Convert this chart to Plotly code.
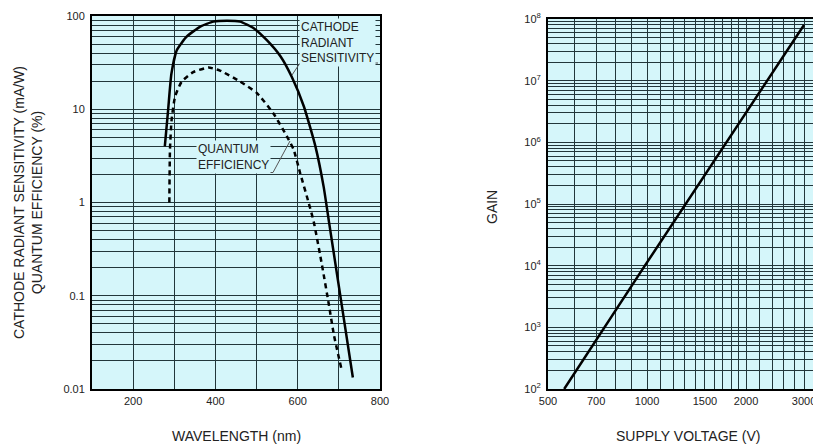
import math
import plotly.graph_objects as go

W, H = 821, 444
OFF = 8  # page body margin in the browser

# ---------------- Left chart data ----------------
wl_sens = [277, 285, 293, 306, 330, 363, 395, 428, 460, 493, 525, 558, 586, 615, 643, 663, 676, 705, 734]
sens = [4.0, 9.8, 24, 43, 60, 77, 87, 89, 87, 74, 55, 37, 22, 10.7, 4.0, 1.48, 0.62, 0.091, 0.0133]

wl_qe = [288, 289.5, 293.5, 302, 318, 346, 383, 411, 460, 501, 541, 574, 590, 606, 627, 639, 659, 676, 688, 706]
qe = [1.0, 3.7, 7.7, 13.7, 19.8, 25, 28, 26, 19.8, 14.9, 9.0, 5.1, 3.7, 2.06, 0.98, 0.62, 0.213, 0.079, 0.038, 0.0166]

wl_major = [200, 400, 600, 800]
wl_minor = [100, 300, 500, 700]

left_decades = [0.01, 0.1, 1, 10, 100]
left_decade_labels = ["0.01", "0.1", "1", "10", "100"]

# ---------------- Right chart data ----------------
voltage = [560, 985, 3000]
gain = [1e2, 1e4, 8e7]

volt_label_vals = [500, 700, 1000, 1500, 2000, 3000]
volt_grid = list(range(500, 2001, 100)) + list(range(2200, 3601, 200))

gain_decades = [1e2, 1e3, 1e4, 1e5, 1e6, 1e7, 1e8]
gain_decade_labels = ["10<sup>2</sup>", "10<sup>3</sup>", "10<sup>4</sup>", "10<sup>5</sup>",
                      "10<sup>6</sup>", "10<sup>7</sup>", "10<sup>8</sup>"]


def log_minor(decades):
    vals = []
    for d in decades[:-1]:
        for k in range(2, 10):
            vals.append(d * k)
    return vals


ly_minor = log_minor(left_decades)
ry_minor = log_minor(gain_decades)
rx_minor = [v for v in volt_grid if v not in volt_label_vals]

FONT = "Liberation Sans, Arial, sans-serif"
BG = "#d5f6fa"
GRID = "#22363a"


def px(x, y):
    """screen pixel -> paper coords (compensating the page margin)"""
    return (x - OFF) / W, 1 - (y - OFF) / H


fig = go.Figure()
fig.add_trace(go.Scatter(x=wl_sens, y=sens, mode="lines",
                         line=dict(color="black", width=2.5, shape="spline", smoothing=0.5),
                         xaxis="x", yaxis="y", showlegend=False))
fig.add_trace(go.Scatter(x=wl_qe, y=qe, mode="lines",
                         line=dict(color="black", width=2.5, dash="5px,4px", shape="spline", smoothing=0.5),
                         xaxis="x", yaxis="y", showlegend=False))
fig.add_trace(go.Scatter(x=voltage, y=gain, mode="lines", line=dict(color="black", width=2.5),
                         xaxis="x2", yaxis="y2", showlegend=False))


def axis(**kw):
    d = dict(showline=True, linecolor="black", linewidth=2, showgrid=True, gridcolor=GRID, gridwidth=1,
             ticks="outside", ticklen=3, tickcolor="rgba(0,0,0,0)", zeroline=False,
             tickfont=dict(family=FONT, size=11, color="#222"), automargin=False)
    d.update(kw)
    return d


def minor(vals):
    return dict(tickmode="array", tickvals=vals, showgrid=True, gridcolor=GRID, gridwidth=1, ticks="")


x0, y0 = px(92, 389)
x1, y1 = px(380, 16)
rx0, _ = px(548, 389)
rx1, ry1 = px(821, 19)
rx_end = math.log10(500) + (821 - 548) / 329.0

fig.update_layout(
    width=W, height=H, margin=dict(l=0, r=0, t=0, b=0),
    paper_bgcolor="white", plot_bgcolor=BG,
    font=dict(family=FONT, color="#222"),
    xaxis=axis(domain=[x0, x1], range=[100, 800], tickmode="array", tickvals=wl_major, ticklen=1,
               ticktext=[str(v) for v in wl_major], minor=minor(wl_minor), mirror=True, anchor="y"),
    yaxis=axis(domain=[y0, y1], type="log", range=[-2, 2], tickmode="array", tickvals=left_decades,
               ticktext=left_decade_labels, minor=minor(ly_minor), mirror=True, anchor="x"),
    xaxis2=axis(domain=[rx0, rx1], type="log", range=[math.log10(500), rx_end], tickmode="array",
                tickvals=volt_label_vals, ticktext=[str(v) for v in volt_label_vals], ticklen=1,
                minor=minor(rx_minor), mirror=True, anchor="y2"),
    yaxis2=axis(domain=[y0, ry1], type="log", range=[2, 8], tickmode="array", tickvals=gain_decades,
                ticktext=gain_decade_labels, minor=minor(ry_minor), mirror=False, anchor="x2"),
)

ann = []


def add_text(text, sx, sy, size=14, angle=0, **kw):
    ax, ay = px(sx, sy)
    d = dict(text=text, x=ax, y=ay, xref="paper", yref="paper", showarrow=False, textangle=angle,
             font=dict(family=FONT, size=size, color="#222"), xanchor="center", yanchor="middle")
    d.update(kw)
    ann.append(d)


add_text("WAVELENGTH (nm)", 236, 436)
add_text("SUPPLY VOLTAGE (V)", 688, 436)
add_text("CATHODE RADIANT SENSITIVITY (mA/W)<br>QUANTUM EFFICIENCY (%)", 28, 203, angle=-90)
add_text("GAIN", 492, 207, angle=-90)
add_text("CATHODE<br>RADIANT<br>SENSITIVITY", 299, 18, size=12, align="left", xanchor="left", yanchor="top",
         bgcolor=BG, borderpad=1)
add_text("QUANTUM<br>EFFICIENCY", 196, 140, size=12, align="left", xanchor="left", yanchor="top",
         bgcolor=BG, borderpad=1)
fig.update_layout(annotations=ann)

shapes = []
for (a, b, c, d) in [(300, 63, 378, 63), (300, 63, 292, 75), (197, 172.5, 273, 172.5), (273, 172.5, 290, 141)]:
    p, q = px(a, b)
    r, s = px(c, d)
    shapes.append(dict(type="line", xref="paper", yref="paper", x0=p, y0=q, x1=r, y1=s,
                       line=dict(color="#555", width=1)))
fig.update_layout(shapes=shapes)

fig.write_html("out.html")
